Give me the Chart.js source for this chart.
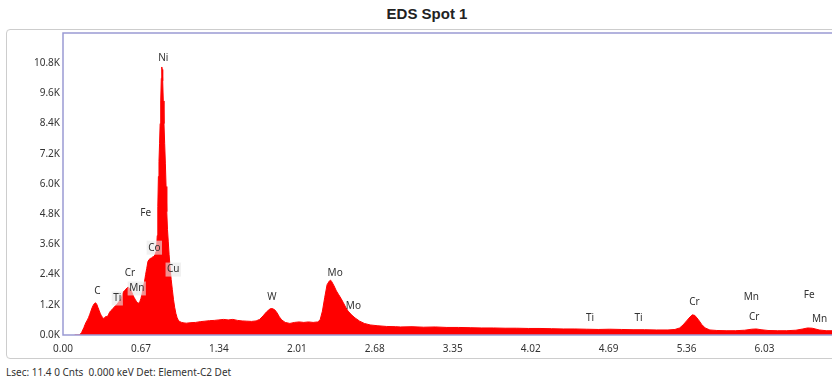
<!DOCTYPE html>
<html>
<head>
<meta charset="utf-8">
<script src="https://cdn.jsdelivr.net/npm/chart.js@4/dist/chart.umd.min.js"></script>
<style>
  html, body { margin: 0; padding: 0; background: #fff; width: 832px; height: 383px; overflow: hidden; position: relative; }
  #panel { position: absolute; left: 6px; top: 29px; width: 900px; height: 328px; border: 1px solid #cdcdcd; border-radius: 4px; }
  #title { position: absolute; left: 0; top: 5px; width: 854px; text-align: center; font: bold 15px "Liberation Sans", Arial, sans-serif; line-height: 18px; color: #222; }
  #status { position: absolute; left: 6px; top: 365px; font: 10px "Noto Sans", sans-serif; color: #333; white-space: pre; }
  #wrap { position: absolute; left: 0; top: 0; width: 832px; height: 383px; }
</style>
</head>
<body>
<div id="panel"></div>
<div id="title">EDS Spot 1</div>
<div id="status">Lsec: 11.4 0 Cnts  0.000 keV Det: Element-C2 Det</div>
<div id="wrap"><canvas id="chart" width="832" height="383"></canvas></div>
<script>
// Spectrum channels: energy (keV) and counts
const energyKeV = [
  0.10, 0.14, 0.15, 0.16, 0.17, 0.18, 0.19, 0.20, 0.21, 0.22, 0.23, 0.24, 0.25, 0.26, 0.27, 0.28, 0.29,
  0.30, 0.31, 0.32, 0.33, 0.34, 0.35, 0.36, 0.37, 0.38, 0.39, 0.40, 0.41, 0.42, 0.43, 0.44, 0.45, 0.46,
  0.47, 0.48, 0.49, 0.50, 0.51, 0.52, 0.53, 0.54, 0.55, 0.56, 0.57, 0.58, 0.59, 0.60, 0.61, 0.62, 0.63,
  0.64, 0.65, 0.66, 0.67, 0.68, 0.69, 0.70, 0.71, 0.72, 0.73, 0.74, 0.75, 0.76, 0.77, 0.78, 0.79, 0.80,
  0.805, 0.81, 0.815, 0.82, 0.825, 0.83, 0.835, 0.84, 0.845, 0.849, 0.853, 0.857, 0.862, 0.868, 0.874,
  0.88, 0.886, 0.892, 0.898, 0.905, 0.912, 0.92, 0.93, 0.94, 0.95, 0.96, 0.97, 0.98, 0.99, 1.00, 1.02,
  1.04, 1.06, 1.10, 1.14, 1.18, 1.22, 1.26, 1.30, 1.34, 1.38, 1.42, 1.46, 1.50, 1.54, 1.58, 1.62, 1.66,
  1.69, 1.72, 1.75, 1.78, 1.80, 1.82, 1.84, 1.86, 1.88, 1.91, 1.95, 1.99, 2.03, 2.07, 2.11, 2.15, 2.19,
  2.21, 2.23, 2.25, 2.27, 2.29, 2.30, 2.31, 2.33, 2.35, 2.37, 2.39, 2.41, 2.43, 2.45, 2.48, 2.51, 2.55,
  2.59, 2.64, 2.70, 2.78, 2.86, 2.90, 3.00, 3.10, 3.20, 3.30, 3.40, 3.50, 3.60, 3.70, 3.80, 3.90, 4.00,
  4.10, 4.20, 4.30, 4.40, 4.50, 4.60, 4.70, 4.80, 4.90, 5.00, 5.10, 5.20, 5.26, 5.30, 5.33, 5.36, 5.39,
  5.41, 5.43, 5.46, 5.49, 5.52, 5.56, 5.62, 5.70, 5.78, 5.86, 5.92, 5.96, 6.00, 6.06, 6.14, 6.22, 6.30,
  6.36, 6.40, 6.44, 6.50, 6.56, 6.62
];
const counts = [
  0, 0, 40, 100, 200, 300, 420, 520, 600, 700, 820, 950, 1080, 1180, 1250, 1280, 1220,
  1100, 980, 860, 760, 700, 660, 700, 740, 720, 800, 900, 960, 1000, 1060, 1100, 1160, 1200,
  1260, 1320, 1380, 1450, 1600, 1720, 1770, 1820, 1870, 1900, 1870, 1820, 1720, 1600, 1500, 1420, 1340,
  1290, 1260, 1320, 1450, 1650, 1900, 2100, 2400, 2650, 2920, 3000, 3040, 3060, 3100, 3120, 3180, 3320,
  3500, 3950, 5100, 6300, 6900, 7600, 8400, 9300, 10200, 10650, 10550, 10100, 9300, 8400, 7600,
  6800, 5900, 4900, 4200, 3700, 3200, 2700, 2200, 1800, 1400, 1100, 860, 700, 600, 540, 500,
  480, 470, 490, 500, 530, 550, 570, 580, 600, 620, 600, 620, 580, 560, 550, 540, 560,
  620, 760, 920, 1040, 1050, 1000, 880, 720, 600, 500, 460, 500, 520, 500, 520, 500, 520,
  600, 950, 1500, 2000, 2150, 2180, 2120, 1950, 1750, 1600, 1450, 1280, 1100, 950, 800, 680, 550,
  460, 400, 370, 340, 330, 320, 330, 310, 320, 300, 300, 290, 280, 280, 270, 270, 260,
  260, 250, 240, 240, 230, 220, 230, 220, 210, 210, 200, 200, 220, 280, 400, 560, 720,
  800, 780, 620, 420, 280, 200, 180, 170, 170, 190, 230, 240, 210, 180, 170, 170, 190,
  240, 280, 270, 200, 170, 170
];

// Axis ticks
const xTickStep = 0.67;
const xMax = 6.61;
const yTickStep = 1200;
const yMax = 12000;
const yLastLabel = 10800;

// Element line markers: name, energy (keV), label height (counts), boxed flag
const peakNames  = ['Ni', 'Fe', 'Co', 'Cu', 'Cr', 'Mn', 'C', 'Ti', 'W', 'Mo', 'Mo', 'Ti', 'Ti', 'Cr', 'Mn', 'Cr', 'Fe', 'Mn'];
const peakKeV    = [0.862, 0.711, 0.785, 0.948, 0.576, 0.634, 0.295, 0.467, 1.795, 2.339, 2.496, 4.531, 4.947, 5.428, 5.916, 5.941, 6.414, 6.503];
const peakCounts = [11000, 4860, 3470, 2600, 2440, 1850, 1750, 1450, 1520, 2470, 1150, 660, 660, 1300, 1520, 700, 1580, 620];
const peakBoxed  = [false, false, true, true, false, true, false, true, false, false, false, false, false, false, false, false, false, false];

const spectrum = energyKeV.map((e, i) => ({ x: e, y: counts[i] }));

const peakLabelPlugin = {
  id: 'peakLabels',
  afterDatasetsDraw(chart) {
    const { ctx, scales: { x, y } } = chart;
    ctx.save();
    ctx.font = '10px "Noto Sans", sans-serif';
    ctx.textAlign = 'center';
    ctx.textBaseline = 'middle';
    peakNames.forEach((name, i) => {
      const px = x.getPixelForValue(peakKeV[i]);
      const py = y.getPixelForValue(peakCounts[i]);
      if (peakBoxed[i]) {
        const w = ctx.measureText(name).width + 3;
        ctx.fillStyle = 'rgba(232,232,232,0.62)';
        ctx.fillRect(px - w / 2, py - 7, w, 14);
      }
      ctx.fillStyle = '#333';
      ctx.fillText(name, px, py);
    });
    ctx.restore();
  }
};

const framePlugin = {
  id: 'plotFrame',
  afterDraw(chart) {
    const { ctx, chartArea: a } = chart;
    ctx.save();
    ctx.strokeStyle = '#9a9ad4';
    ctx.lineWidth = 1.5;
    ctx.beginPath();
    ctx.moveTo(a.right + 2, a.top);
    ctx.lineTo(a.left, a.top);
    ctx.lineTo(a.left, a.bottom);
    ctx.lineTo(a.right + 2, a.bottom);
    ctx.stroke();
    ctx.restore();
  }
};

new Chart(document.getElementById('chart'), {
  type: 'line',
  data: {
    datasets: [{
      data: spectrum,
      borderColor: '#ff0000',
      backgroundColor: '#ff0000',
      borderWidth: 1,
      fill: 'origin',
      pointRadius: 0,
      tension: 0
    }]
  },
  options: {
    responsive: false,
    animation: false,
    layout: { padding: { top: 33, left: 0, right: 0, bottom: 0 } },
    plugins: { legend: { display: false }, tooltip: { enabled: false }, title: { display: false } },
    scales: {
      x: {
        type: 'linear',
        min: 0,
        max: xMax,
        grid: { display: false, drawTicks: false },
        border: { display: false },
        ticks: {
          stepSize: xTickStep,
          includeBounds: false,
          autoSkip: false,
          maxRotation: 0,
          padding: 8,
          color: '#333',
          font: { family: '"Noto Sans", sans-serif', size: 10 },
          callback: v => Number(v).toFixed(2)
        },
        afterFit: s => { s.height = 48; }
      },
      y: {
        min: 0,
        max: yMax,
        grid: { display: false, drawTicks: false },
        border: { display: false },
        ticks: {
          stepSize: yTickStep,
          padding: 3,
          color: '#333',
          font: { family: '"Noto Sans", sans-serif', size: 10 },
          callback: v => v > yLastLabel ? null : (v / 1000).toFixed(1) + 'K'
        },
        afterFit: s => { s.width = 63; }
      }
    }
  },
  plugins: [peakLabelPlugin, framePlugin]
});
</script>
</body>
</html>
